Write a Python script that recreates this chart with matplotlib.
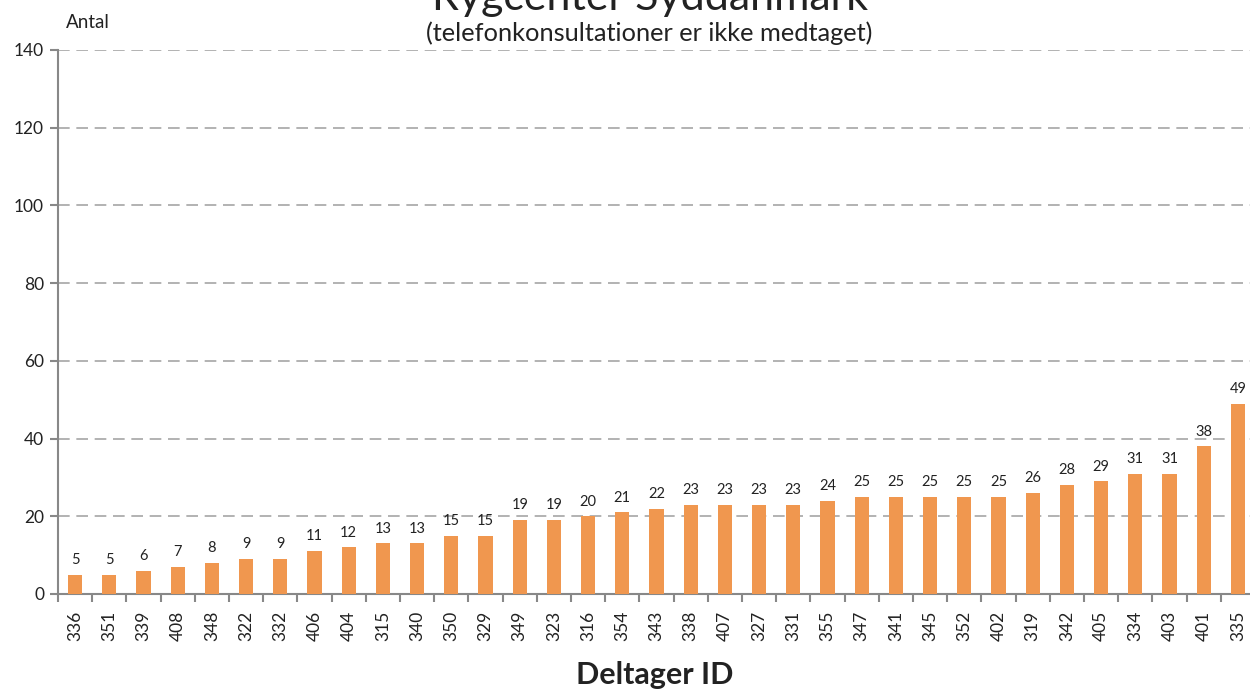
import matplotlib
matplotlib.use("Agg")
import matplotlib.pyplot as plt
import numpy as np

ids = ["336","351","339","408","348","322","332","406","404","315","340","350","329","349","323",
       "316","354","343","338","407","327","331","355","347","341","345","352","402","319","342",
       "405","334","403","401","335"]
values = [5,5,6,7,8,9,9,11,12,13,13,15,15,19,19,20,21,22,23,23,23,23,24,25,25,25,25,25,26,28,
          29,31,31,38,49]
yticks = [0,20,40,60,80,100,120,140]

fig = plt.figure(figsize=(12.5, 6.91), dpi=100)
ax = fig.add_axes([58/1250, 1-594/691, (1255-58)/1250, (594-50)/691])

x = np.arange(len(ids))
ax.bar(x, values, width=0.41, color="#F0974F", zorder=3)
for xi, v in zip(x, values):
    ax.text(xi, v + 2.0, str(v), ha="center", va="bottom", fontsize=10.5, family="Lato", color="#222222")

ax.set_xlim(-0.5, len(ids)-0.5)
ax.set_ylim(0, 140)
ax.set_yticks(yticks)
ax.set_yticklabels([str(t) for t in yticks], fontsize=12.5, family="Lato", color="#222222")
ax.set_xticks(x)
ax.set_xticklabels(ids, rotation=90, fontsize=12.5, family="Lato", color="#222222")
ax.set_xticks(np.arange(len(ids)+1)-0.5, minor=True)
ax.tick_params(axis="x", which="major", length=0, pad=12)
ax.tick_params(axis="x", which="minor", length=6, color="#888888", width=1.5)
ax.tick_params(axis="y", length=6, color="#888888", width=1.5, pad=4)

ax.yaxis.grid(True, linestyle=(0, (7, 4)), color="#A6A6A6", linewidth=1.2, zorder=0)
for s in ["top", "right"]:
    ax.spines[s].set_visible(False)
for s in ["left", "bottom"]:
    ax.spines[s].set_color("#888888")
    ax.spines[s].set_linewidth(1.5)

fig.text(650/1250, 1-10/691, "Rygcenter Syddanmark", ha="center", va="baseline", fontsize=31,
         family="Lato", color="#222222")
fig.text(649/1250, 1-41/691, "(telefonkonsultationer er ikke medtaget)", ha="center", va="baseline",
         fontsize=18.3, family="Lato", color="#222222")
fig.text(66/1250, 1-22/691, "Antal", ha="left", va="center", fontsize=13.5, family="Lato", color="#222222")
fig.text(655/1250, 1-675/691, "Deltager ID", ha="center", va="center", fontsize=22,
         family="Lato", fontweight="bold", color="#222222")

fig.savefig("out.png", dpi=100)
